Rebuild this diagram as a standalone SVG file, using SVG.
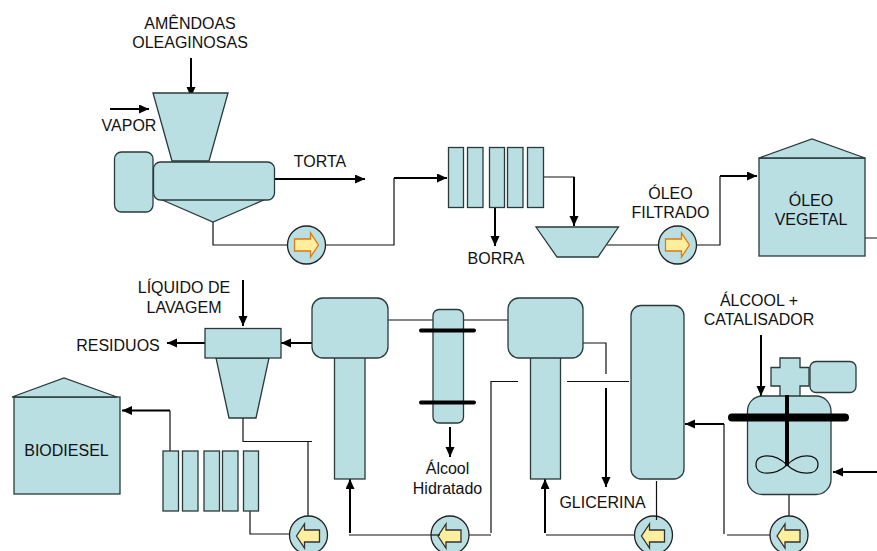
<svg xmlns="http://www.w3.org/2000/svg" width="877" height="551" viewBox="0 0 877 551">
<style>
.s{fill:#b9dfe3;stroke:#2a3a3a;stroke-width:1.3}
.l{fill:none;stroke:#111;stroke-width:1.2}
.a{fill:none;stroke:#000;stroke-width:2;marker-end:url(#m)}
.p{fill:#b9dfe3;stroke:#222;stroke-width:1.3}
.r{fill:#ffee9e;stroke:#e07a10;stroke-width:1.3}
.k{fill:#ffee9e;stroke:#333;stroke-width:1.3}
text{font-family:"Liberation Sans",Arial,sans-serif;font-size:16px;fill:#111;text-anchor:middle}
</style>
<defs>
<marker id="m" markerUnits="userSpaceOnUse" markerWidth="12" markerHeight="10" refX="10" refY="4.500" orient="auto"><path d="M0 0L10 4.500L0 9z" fill="#000"/></marker>
<path id="pr" d="M-12-6H4V-12L12 0L4 12V6H-12z"/>
<path id="pl" d="M11-6H-4V-12L-12 0L-4 12V6H11z"/>
</defs>
<g id="connectors">
<path class="l" d="M213 222V245H288M325 245H394V178"/>
<path class="l" d="M543 177H574V190M607 245H659M696 245H720V176M865 238H877"/>
<path class="l" d="M243 418V441.500H312M308 441.500V517M170 451V410.500M250 511V534H290"/>
<path class="l" d="M388 320H433M463 320H508M583 343H606V374M491 533V381.500H518M567 381.500H629M469 535H491M349 535H431M546 535H636M724 534V424M727 535H770M789 494V517"/>
<path class="a" d="M191 58V97"/>
<path class="a" d="M110 109H149"/>
<path class="a" d="M273 179H365"/>
<path class="a" d="M394 178H447"/>
<path class="a" d="M574 177V226"/>
<path class="a" d="M495 207V246"/>
<path class="a" d="M720 176H757"/>
<path class="a" d="M243 280V326"/>
<path class="a" d="M205 343H167"/>
<path class="a" d="M312 343H281"/>
<path class="a" d="M170 410.500H122"/>
<path class="a" d="M450 427V457"/>
<path class="a" d="M350 533V479"/>
<path class="a" d="M545 533V479"/>
<path class="a" d="M606 388V487"/>
<path class="a" d="M724 424H685"/>
<path class="a" d="M761 335V396"/>
<path class="a" d="M877 472H833"/>
</g>
<g id="press">
<rect class="s" x="114.500" y="152" width="38.500" height="60" rx="7"/>
<path class="s" d="M153 93H228L209 161H172z"/>
<path class="s" d="M160 199H266L213 222z"/>
<rect class="s" x="153.500" y="162" width="121" height="38" rx="7"/>
</g>
<g id="filter-1">
<rect class="s" x="448.500" y="147.500" width="15" height="60"/>
<rect class="s" x="467.500" y="147.500" width="15.500" height="60"/>
<rect class="s" x="489.500" y="147.500" width="15" height="60"/>
<rect class="s" x="507.500" y="147.500" width="15.500" height="60"/>
<rect class="s" x="527.500" y="147.500" width="16" height="60"/>
</g>
<g id="settler"><path class="s" d="M536 227H618.500L598 257H557z"/></g>
<g id="oil-tank">
<rect class="s" x="759" y="158" width="106" height="98"/>
<path class="s" d="M759 158L812 139L865 158z"/>
<text x="811" y="206">ÓLEO</text><text x="811" y="225">VEGETAL</text>
</g>
<g id="washer">
<path class="s" d="M216 358H269L256 418H229z"/>
<rect class="s" x="205" y="328.500" width="76" height="29.500"/>
</g>
<g id="biodiesel-tank">
<rect class="s" x="14" y="397" width="106" height="97"/>
<path class="s" d="M12 397L64 378L117 397z"/>
<text x="66.500" y="456">BIODIESEL</text>
</g>
<g id="filter-2">
<rect class="s" x="163" y="451" width="15.500" height="60"/>
<rect class="s" x="182.500" y="451" width="15.500" height="60"/>
<rect class="s" x="204" y="451" width="15.500" height="60"/>
<rect class="s" x="222.500" y="451" width="15.500" height="60"/>
<rect class="s" x="243.500" y="451" width="15" height="60"/>
</g>
<g id="column-1">
<rect class="s" x="334.500" y="355" width="30.500" height="124"/>
<rect class="s" x="312" y="298" width="76" height="60" rx="11"/>
</g>
<g id="condenser">
<rect class="s" x="433" y="309.500" width="30.500" height="113.500" rx="6"/>
<path d="M421 330.500H474M421 402.500H474" fill="none" stroke="#000" stroke-width="4" stroke-linecap="round"/>
</g>
<g id="column-2">
<rect class="s" x="530.500" y="355" width="30" height="124"/>
<rect class="s" x="508" y="298" width="75" height="60" rx="11"/>
</g>
<g id="column-3"><rect class="s" x="631" y="305.500" width="53" height="173.500" rx="10"/></g>
<g id="reactor">
<path class="s" d="M780 358H800V367.500H809V386H800V397H780V386H771V367.500H780z"/>
<rect class="s" x="810" y="361.500" width="46" height="31" rx="6"/>
<rect class="s" x="747.500" y="396" width="83.500" height="98.500" rx="15"/>
<path d="M732 417.500H845" fill="none" stroke="#000" stroke-width="8" stroke-linecap="round"/>
<path d="M787 395V466" fill="none" stroke="#000" stroke-width="4"/>
<path d="M787 465C775 453 756 453 756 464.500C756 476 775 476 787 465C799 453 818 453 818 464.500C818 476 799 476 787 465z" fill="none" stroke="#111" stroke-width="1.200"/>
</g>
<g id="pump-1"><circle class="p" cx="306.500" cy="245" r="19"/><use href="#pr" x="306.500" y="245" class="r"/></g>
<g id="pump-2"><circle class="p" cx="677.500" cy="245" r="19"/><use href="#pr" x="677.500" y="245" class="r"/></g>
<g id="pump-3"><circle class="p" cx="308.500" cy="535" r="19"/><use href="#pl" x="308.500" y="536" class="k"/></g>
<g id="pump-4"><circle class="p" cx="450" cy="535" r="19"/><use href="#pl" x="450" y="536" class="k"/><path class="l" d="M431 535H440"/></g>
<g id="pump-5"><circle class="p" cx="653.500" cy="535" r="19"/><use href="#pl" x="653.500" y="536" class="k"/><path class="l" d="M656.500 481V520"/></g>
<g id="pump-6"><circle class="p" cx="789" cy="535" r="19"/><use href="#pl" x="789" y="536" class="k"/></g>
<g id="labels">
<text x="190" y="29">AMÊNDOAS</text><text x="190" y="48">OLEAGINOSAS</text>
<text x="129" y="131">VAPOR</text>
<text x="320" y="167">TORTA</text>
<text x="496" y="264">BORRA</text>
<text x="670.500" y="199">ÓLEO</text><text x="670.500" y="218">FILTRADO</text>
<text x="184" y="293">LÍQUIDO DE</text><text x="184" y="313">LAVAGEM</text>
<text x="118" y="351">RESIDUOS</text>
<text x="447.500" y="474">Álcool</text><text x="447.500" y="494">Hidratado</text>
<text x="602.500" y="508">GLICERINA</text>
<text x="759" y="306">ÁLCOOL +</text><text x="759" y="325">CATALISADOR</text>
</g>
</svg>
